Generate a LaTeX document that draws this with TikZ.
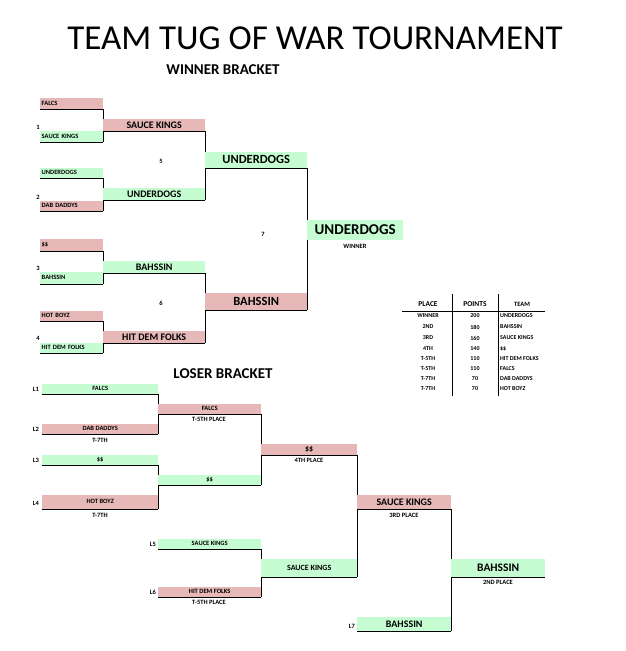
\documentclass[tikz,border=0pt]{standalone}
\usepackage{fontspec}
\setmainfont{Carlito}
\definecolor{pk}{HTML}{E6B8B7}
\definecolor{gr}{HTML}{C6FCD2}
\tikzset{
 bx/.style={inner sep=0pt, anchor=south west, font=\bfseries\fontsize{6.5}{6.5}\selectfont, align=center},
 pkb/.style={bx, fill=pk}, grb/.style={bx, fill=gr},
 lbl/.style={inner sep=0pt, font=\bfseries\fontsize{6.5}{6.5}\selectfont},
 ln/.style={line width=0.9pt},
}
\newcommand{\bk}[7]{% style, name, x, ybottom, w, h, text
 \node[#1, minimum width=#5pt, minimum height=#6pt] (#2) at (#3,#4) {#7};
 \draw[ln] (#2.south west) -- (#2.south east);}
\begin{document}
\begin{tikzpicture}[x=1pt,y=-1pt]
\useasboundingbox (0,0) rectangle (626,651);
\node[inner sep=0pt, font=\fontsize{35}{35}\selectfont] (title) at (315,38) {TEAM TUG OF WAR TOURNAMENT};
\node[inner sep=0pt, font=\bfseries\fontsize{15}{15}\selectfont] (wb) at (223,70) {WINNER BRACKET};
\node[inner sep=0pt, font=\bfseries\fontsize{15}{15}\selectfont] (lb) at (223,374) {LOSER BRACKET};
% winner round 1
\bk{pkb,text width=60pt,align=left}{a1}{40}{109}{63}{11}{FALCS}
\bk{grb,text width=60pt,align=left}{a2}{40}{142}{63}{11}{SAUCE KINGS}
\bk{grb,text width=60pt,align=left}{a3}{40}{178}{63}{10}{UNDERDOGS}
\bk{pkb,text width=60pt,align=left}{a4}{40}{211}{63}{10}{DAB DADDYS}
\bk{pkb,text width=60pt,align=left}{a5}{40}{251}{63}{12}{\$\$}
\bk{grb,text width=60pt,align=left}{a6}{40}{284}{63}{12}{BAHSSIN}
\bk{pkb,text width=60pt,align=left}{a7}{40}{321}{63}{10}{HOT BOYZ}
\bk{grb,text width=60pt,align=left}{a8}{40}{353}{63}{10}{HIT DEM FOLKS}
\foreach \u/\v in {a1/a2,a3/a4,a5/a6,a7/a8} \draw[ln] (\u.south east) -- (\v.south east);
\node[lbl] (n1) at (38,127) {1};
\node[lbl] (n2) at (38,197) {2};
\node[lbl] (n3) at (38,268) {3};
\node[lbl] (n4) at (38,338) {4};
% winner round 2
\tikzset{m/.style={font=\bfseries\fontsize{10}{10}\selectfont}}
\bk{pkb,m}{b1}{103}{131}{102}{12}{SAUCE KINGS}
\bk{grb,m}{b2}{103}{200}{102}{12}{UNDERDOGS}
\bk{grb,m}{b3}{103}{273}{102}{12}{BAHSSIN}
\bk{pkb,m}{b4}{103}{343}{102}{12}{HIT DEM FOLKS}
\draw[ln] (b1.south east) -- (b2.south east);
\draw[ln] (b3.south east) -- (b4.south east);
\node[lbl] (n5) at (161,161) {5};
\node[lbl] (n6) at (161,303) {6};
\node[lbl] (n7) at (263,234) {7};
% round 3
\tikzset{l/.style={font=\bfseries\fontsize{12.5}{12.5}\selectfont}}
\bk{grb,l}{c1}{205}{168}{102}{16}{UNDERDOGS}
\bk{pkb,l}{c2}{205}{310}{102}{17}{BAHSSIN}
\draw[ln] (c1.south east) -- (c2.south east);
\node[grb, minimum width=96pt, minimum height=20pt, font=\bfseries\fontsize{15}{15}\selectfont] (win) at (307,240) {UNDERDOGS};
\node[lbl] (winl) at (355,246) {WINNER};
% table
\tikzset{tb/.style={inner sep=0pt, font=\bfseries\fontsize{6}{6}\selectfont}}
\node[tb, font=\bfseries\fontsize{7.5}{7.5}\selectfont] (h1) at (428,304) {PLACE};
\node[tb, font=\bfseries\fontsize{7.5}{7.5}\selectfont] (h2) at (475,304) {POINTS};
\node[tb, font=\bfseries\fontsize{6.5}{6.5}\selectfont] (h3) at (522,304) {TEAM};
\coordinate (r1) at (402,311); \coordinate (r2) at (545,311);
\draw[line width=0.6pt] (r1) -- (r2);
\coordinate (v1t) at (452,294); \coordinate (v1b) at (452,396);
\coordinate (v2t) at (498,294); \coordinate (v2b) at (498,396);
\draw[line width=0.6pt] (v1t) -- (v1b) (v2t) -- (v2b);
\foreach \y/\p/\q/\t [count=\i] in {316/WINNER/200/UNDERDOGS,327/2ND/180/BAHSSIN,338/3RD/160/SAUCE KINGS,349/4TH/140/\$\$,359/T-5TH/110/HIT DEM FOLKS,369/T-5TH/110/FALCS,379/T-7TH/70/DAB DADDYS,389/T-7TH/70/HOT BOYZ}{
 \node[tb] (p\i) at (428,\y) {\p};
 \node[tb] (q\i) at (475,\y) {\q};
 \node[tb, anchor=west] (t\i) at (500,\y) {\t};}
% loser bracket
\tikzset{s/.style={font=\bfseries\fontsize{6.5}{6.5}\selectfont}}
\bk{grb,s}{d1}{42}{394}{116}{10}{FALCS}
\bk{pkb,s}{d2}{42}{434}{116}{10}{DAB DADDYS}
\bk{grb,s}{d3}{42}{465}{116}{10}{\$\$}
\bk{pkb,s}{d4}{42}{509}{116}{14}{HOT BOYZ}
\draw[ln] (d1.south east) -- (d2.south east);
\draw[ln] (d3.south east) -- (d4.south east);
\node[lbl] (d2l) at (100,440) {T-7TH};
\node[lbl] (d4l) at (100,515) {T-7TH};
\node[lbl] (L1) at (36,389) {L1};
\node[lbl] (L2) at (36,429) {L2};
\node[lbl] (L3) at (36,460) {L3};
\node[lbl] (L4) at (36,503) {L4};
\bk{pkb,s}{e1}{158}{414}{103}{10}{FALCS}
\bk{grb,s}{e2}{158}{485}{103}{10}{\$\$}
\draw[ln] (e1.south east) -- (e2.south east);
\node[lbl] (e1l) at (209,419) {T-5TH PLACE};
\bk{grb,s}{e3}{158}{549}{103}{10}{SAUCE KINGS}
\bk{pkb,s}{e4}{158}{597}{103}{10}{HIT DEM FOLKS}
\draw[ln] (e3.south east) -- (e4.south east);
\node[lbl] (e4l) at (209,602) {T-5TH PLACE};
\node[lbl] (L5) at (153,544) {L5};
\node[lbl] (L6) at (153,592) {L6};
\tikzset{sm/.style={font=\bfseries\fontsize{8}{8}\selectfont}}
\bk{pkb,sm}{f1}{261}{455}{96}{11}{\$\$}
\node[lbl] (f1l) at (309,460) {4TH PLACE};
\bk{grb,sm}{f2}{261}{577}{96}{18}{SAUCE KINGS}
\draw[ln] (f1.south east) -- (f2.south east);
\tikzset{md/.style={font=\bfseries\fontsize{10}{10}\selectfont}}
\bk{pkb,md}{g1}{357}{509}{94}{14}{SAUCE KINGS}
\node[lbl] (g1l) at (404,515) {3RD PLACE};
\bk{grb,md}{g2}{357}{631}{94}{14}{BAHSSIN}
\node[lbl] (L7) at (352,626) {L7};
\draw[ln] (g1.south east) -- (g2.south east);
\bk{grb,font=\bfseries\fontsize{11.5}{11.5}\selectfont}{h}{451}{577}{94}{18}{BAHSSIN}
\node[lbl] (hl) at (498,582) {2ND PLACE};
\end{tikzpicture}
\end{document}
